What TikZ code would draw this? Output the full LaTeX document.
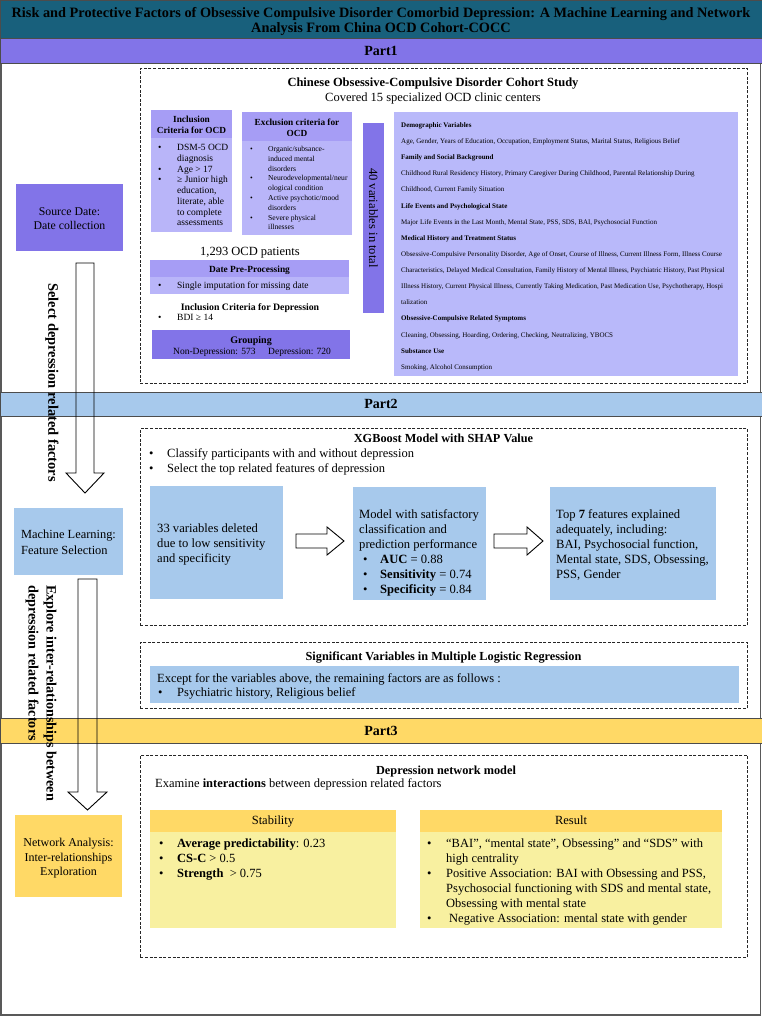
\documentclass[tikz,border=0pt]{standalone}
\usepackage{fontspec}
\setmainfont{Liberation Serif}
\definecolor{teal1}{RGB}{24,96,124}
\definecolor{mainP}{RGB}{130,116,232}
\definecolor{hdrP}{RGB}{166,157,245}
\definecolor{bodyP}{RGB}{185,181,249}
\definecolor{varP}{RGB}{185,185,250}
\definecolor{blueB}{RGB}{167,201,236}
\definecolor{yel}{RGB}{255,217,102}
\definecolor{lyel}{RGB}{248,240,160}
\newcommand\myfs[2]{\fontsize{#1}{#2}\selectfont}
\newcommand\bl[1]{\makebox[#1][l]{•}}
\newcommand\ind[1]{\hspace*{#1}}
\begin{document}
\begin{tikzpicture}[x=1pt,y=-1pt,
  band/.style={draw=black!70,line width=1pt,anchor=north west,inner sep=0pt,minimum width=762},
  dbox/.style={draw=black!85,line width=0.9pt,dash pattern=on 3pt off 1.6pt,anchor=north west,inner sep=0pt},
  fbox/.style={anchor=north west,inner sep=0pt},
  tl/.style={inner sep=0pt,anchor=north west,align=left},
  tc/.style={inner sep=0pt,anchor=north,align=center},
  bw/.style={inner sep=0pt,anchor=base west},
  bc/.style={inner sep=0pt,anchor=base},
  blockarrow/.style={draw=black,line width=0.9pt,line join=miter},
  ]
\useasboundingbox (0,0) rectangle (762,1016);
% outer frame
\draw[draw=black!65,line width=1.5pt] (0.75,1) rectangle (760.5,1015);

% title band
\node[band,fill=teal1,minimum height=38] (title) at (0,0) {};
\node[tc,font=\bfseries\myfs{14.3}{15}] (titletext) at (381,7.6)
  {Risk and Protective Factors of Obsessive Compulsive Disorder Comorbid Depression: A Machine Learning and Network\\Analysis From China OCD Cohort-COCC};

% ---------------- Part 1 ----------------
\node[band,fill=mainP,minimum height=25] (p1) at (0,38) {};
\node[bc,font=\bfseries\myfs{14}{14}] (p1t) at (381,55.5) {Part1};
\node[dbox,minimum width=607,minimum height=315] (box1) at (140,68) {};
\node[bc,font=\bfseries\myfs{12.5}{14}] (cocs) at (433,86.7) {Chinese Obsessive-Compulsive Disorder Cohort Study};
\node[bc,font=\myfs{12.5}{14}] (cov) at (433,101.7) {Covered 15 specialized OCD clinic centers};

% source box
\node[fbox,fill=mainP,minimum width=107,minimum height=67] (src) at (16,184) {};
\node[tc,font=\myfs{11.8}{13.5}] (srct) at (69.5,207.5) {Source Date:\\Date collection};

% inclusion
\node[fbox,fill=hdrP,minimum width=81,minimum height=28] (inch) at (151,110) {};
\node[fbox,fill=bodyP,minimum width=81,minimum height=94] (incb) at (151,138) {};
\node[tc,font=\bfseries\myfs{9.3}{11}] (incht) at (191.5,115.5) {Inclusion\\Criteria for OCD};
\node[tl,font=\myfs{9.5}{10.7}] (incbt) at (158,144.4)
  {\bl{19pt}DSM-5 OCD\\\ind{19pt}diagnosis\\\bl{19pt}Age > 17\\\bl{19pt}≥ Junior high\\\ind{19pt}education,\\\ind{19pt}literate, able\\\ind{19pt}to complete\\\ind{19pt}assessments};

% exclusion
\node[fbox,fill=hdrP,minimum width=110,minimum height=29] (exch) at (242,112) {};
\node[fbox,fill=bodyP,minimum width=110,minimum height=94] (excb) at (242,141) {};
\node[tc,font=\bfseries\myfs{9.3}{11}] (excht) at (297,118.5) {Exclusion criteria for\\OCD};
\node[tl,font=\myfs{7.6}{9.8}] (excbt) at (250,146.1)
  {\bl{18pt}Organic/subsance-\\\ind{18pt}induced mental\\\ind{18pt}disorders\\\bl{18pt}Neurodevelopmental/neur\\\ind{18pt}ological condition\\\bl{18pt}Active psychotic/mood\\\ind{18pt}disorders\\\bl{18pt}Severe physical\\\ind{18pt}illnesses};

% 40 variables
\node[fbox,fill=mainP,minimum width=21,minimum height=190] (forty) at (363,123) {};
\node[inner sep=0pt,rotate=-90,font=\myfs{12.6}{14}] (fortyt) at (373.5,218) {40 variables in total};

% variables box
\node[fbox,fill=varP,minimum width=344,minimum height=264] (vars) at (394,112) {};
\node[tl,font=\myfs{7}{16.13}] (varst) at (401,122.3)
  {\textbf{Demographic Variables}\\
   Age, Gender, Years of Education, Occupation, Employment Status, Marital Status, Religious Belief\\
   \textbf{Family and Social Background}\\
   Childhood Rural Residency History, Primary Caregiver During Childhood, Parental Relationship During\\
   Childhood, Current Family Situation\\
   \textbf{Life Events and Psychological State}\\
   Major Life Events in the Last Month, Mental State, PSS, SDS, BAI, Psychosocial Function\\
   \textbf{Medical History and Treatment Status}\\
   Obsessive-Compulsive Personality Disorder, Age of Onset, Course of Illness, Current Illness Form, Illness Course\\
   Characteristics, Delayed Medical Consultation, Family History of Mental Illness, Psychiatric History, Past Physical\\
   Illness History, Current Physical Illness, Currently Taking Medication, Past Medication Use, Psychotherapy, Hospi\\
   talization\\
   \textbf{Obsessive-Compulsive Related Symptoms}\\
   Cleaning, Obsessing, Hoarding, Ordering, Checking, Neutralizing, YBOCS\\
   \textbf{Substance Use}\\
   Smoking, Alcohol Consumption};

% patients, preprocessing
\node[bc,font=\myfs{12.5}{14}] (pat) at (250,255.7) {1,293 OCD patients};
\node[fbox,fill=hdrP,minimum width=199,minimum height=17] (preh) at (150,260) {};
\node[fbox,fill=bodyP,minimum width=199,minimum height=17] (preb) at (150,277) {};
\node[bc,font=\bfseries\myfs{9.4}{11}] (preht) at (249.5,272) {Date Pre-Processing};
\node[bw,font=\myfs{9.5}{11}] (prebt) at (158,288.8) {\bl{19pt}Single imputation for missing date};
\node[bc,font=\bfseries\myfs{9.8}{11}] (icd) at (250,310) {Inclusion Criteria for Depression};
\node[bw,font=\myfs{9.5}{11}] (bdi) at (158,320.8) {\bl{19pt}BDI ≥ 14};

% grouping
\node[fbox,fill=mainP,minimum width=198,minimum height=29] (grp) at (152,330) {};
\node[bc,font=\bfseries\myfs{10}{11}] (grpt) at (251,343) {Grouping};
\node[bw,font=\myfs{9.5}{11}] (nond) at (173,354) {Non-Depression: 573};
\node[bw,font=\myfs{9.5}{11}] (dep) at (268,354) {Depression: 720};

% ---------------- Part 2 ----------------
\node[band,fill=blueB,minimum height=24] (p2) at (0,392) {};
\node[bc,font=\bfseries\myfs{14}{14}] (p2t) at (381,408.5) {Part2};

\draw[blockarrow] (76,263) -- (94,263) -- (94,473) -- (104,473) -- (85,493) -- (66,473) -- (76,473) -- cycle;
\node[inner sep=0pt,anchor=west,rotate=-90,font=\bfseries\myfs{14.5}{15}] (sel) at (52,283) {Select depression related factors};

\node[dbox,minimum width=607,minimum height=197] (box2) at (140,428) {};
\node[bc,font=\bfseries\myfs{12.3}{14}] (xgb) at (443.5,442) {XGBoost Model with SHAP Value};
\node[tl,font=\myfs{12.5}{15}] (xgbb) at (149,448.2)
  {\bl{18pt}Classify participants with and without depression\\\bl{18pt}Select the top related features of depression};

\node[fbox,fill=blueB,minimum width=133,minimum height=113] (ba) at (150,486) {};
\node[tl,font=\myfs{12.6}{15.3}] (bat) at (157,523.2) {33 variables deleted\\due to low sensitivity\\and specificity};
\node[fbox,fill=blueB,minimum width=133,minimum height=113] (bb) at (353,487) {};
\node[tl,font=\myfs{12.6}{15}] (bbt) at (359,509.2)
  {Model with satisfactory\\classification and\\prediction performance\\
   \ind{4pt}\bl{17pt}\textbf{AUC} = 0.88\\\ind{4pt}\bl{17pt}\textbf{Sensitivity} = 0.74\\\ind{4pt}\bl{17pt}\textbf{Specificity} = 0.84};
\node[fbox,fill=blueB,minimum width=166,minimum height=113] (bcx) at (550,487) {};
\node[tl,font=\myfs{12.6}{15}] (bct) at (556,509.2)
  {Top \textbf{7} features explained\\adequately, including:\\BAI, Psychosocial function,\\Mental state, SDS, Obsessing,\\PSS, Gender};

\draw[blockarrow] (296,534) -- (327,534) -- (327,527) -- (344,541) -- (327,555) -- (327,548) -- (296,548) -- cycle;
\draw[blockarrow] (494,534) -- (527,534) -- (527,527) -- (543,541) -- (527,555) -- (527,548) -- (494,548) -- cycle;

\node[dbox,minimum width=607,minimum height=66] (box3) at (140,642) {};
\node[bc,font=\bfseries\myfs{12.3}{14}] (sig) at (443.5,660) {Significant Variables in Multiple Logistic Regression};
\node[fbox,fill=blueB,minimum width=589,minimum height=37] (sigb) at (150,666) {};
\node[tl,font=\myfs{12.5}{14}] (sigt) at (157,673.2)
  {Except for the variables above, the remaining factors are as follows :\\\ind{1pt}\bl{19pt}Psychiatric history, Religious belief};

\node[fbox,fill=blueB,minimum width=109,minimum height=67] (ml) at (14,508) {};
\node[tl,font=\myfs{12.4}{16}] (mlt) at (21,529.3) {Machine Learning:\\Feature Selection};

% ---------------- Part 3 ----------------
\node[band,fill=yel,minimum height=25] (p3) at (0,718) {};
\node[bc,font=\bfseries\myfs{14}{14}] (p3t) at (381,735.5) {Part3};

\draw[blockarrow] (78,579) -- (97,579) -- (97,792) -- (107,792) -- (87.5,810) -- (68,792) -- (78,792) -- cycle;
\node[inner sep=0pt,anchor=west,rotate=-90,font=\bfseries\myfs{14.2}{15}] (exp1) at (50,585) {Explore inter-relationships between};
\node[inner sep=0pt,anchor=west,rotate=-90,font=\bfseries\myfs{14.2}{15}] (exp2) at (32,585) {depression related factors};

\node[dbox,minimum width=607,minimum height=202] (box4) at (140,755) {};
\node[bc,font=\bfseries\myfs{12.3}{14}] (dnm) at (446,774) {Depression network model};
\node[bw,font=\myfs{12.5}{14}] (exam) at (155,787.8) {Examine \textbf{interactions} between depression related factors};

\node[fbox,fill=yel,minimum width=246,minimum height=22] (sth) at (150,810) {};
\node[fbox,fill=lyel,minimum width=246,minimum height=96] (stb) at (150,832) {};
\node[bc,font=\myfs{12.5}{14}] (stht) at (273,824.8) {Stability};
\node[tl,font=\myfs{12.5}{15}] (stbt) at (159,838.2)
  {\bl{18pt}\textbf{Average predictability}: 0.23\\\bl{18pt}\textbf{CS-C} > 0.5\\\bl{18pt}\textbf{Strength}\ \ > 0.75};

\node[fbox,fill=yel,minimum width=302,minimum height=22] (rsh) at (420,810) {};
\node[fbox,fill=lyel,minimum width=302,minimum height=96] (rsb) at (420,832) {};
\node[bc,font=\myfs{12.5}{14}] (rsht) at (571,824.8) {Result};
\node[tl,font=\myfs{12.5}{15}] (rsbt) at (427,838.2)
  {\bl{19pt}“BAI”, “mental state”, Obsessing” and “SDS” with\\\ind{19pt}high centrality\\
   \bl{19pt}Positive Association: BAI with Obsessing and PSS,\\\ind{19pt}Psychosocial functioning with SDS and mental state,\\\ind{19pt}Obsessing with mental state\\
   \bl{19pt}\hspace*{3pt}Negative Association: mental state with gender};

\node[fbox,fill=yel,minimum width=107,minimum height=82] (na) at (15,815) {};
\node[tc,font=\myfs{12}{14.5}] (nat) at (68.5,838.4) {Network Analysis:\\Inter-relationships\\Exploration};
\end{tikzpicture}
\end{document}
